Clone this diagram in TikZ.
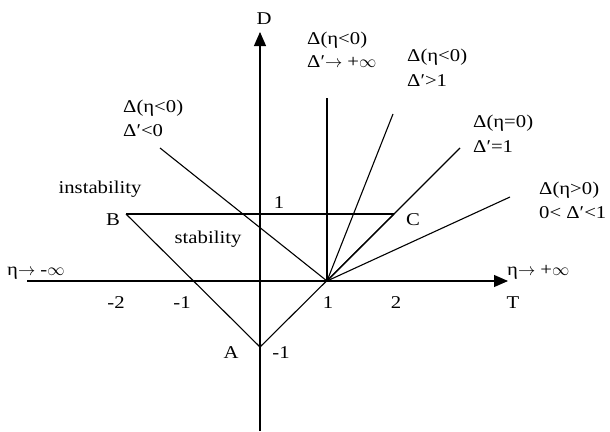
\documentclass[tikz,border=0pt]{standalone}
\usepackage{fontspec}
\setmainfont{Liberation Serif}[FakeStretch=1.15]
\usetikzlibrary{arrows.meta}
\newcommand{\myarr}{\ensuremath{\rightarrow}}
\newcommand{\myinf}{\ensuremath{\infty}}
\begin{document}
\begin{tikzpicture}[x=1pt,y=-1pt,
  ln/.style={line width=1.1pt},
  ax/.style={line width=1.1pt,-{Triangle[length=14pt,width=12pt]}},
  lbl/.style={inner sep=0pt,font=\fontsize{18}{22}\selectfont}]
\useasboundingbox (0,0) rectangle (610,431);
% points
\coordinate (O) at (260,281);
\coordinate (A) at (260,347);
\coordinate (B) at (126,214);
\coordinate (C) at (394,214);
\coordinate (P) at (327,281);
\coordinate (xl) at (27,281);
\coordinate (xr) at (508,281);
\coordinate (yb) at (260,431);
\coordinate (yt) at (260,32);
\coordinate (r1) at (160,148);
\coordinate (r2) at (327,98);
\coordinate (r3) at (393,114);
\coordinate (r4) at (460,148);
\coordinate (r5) at (510,197);
% axes
\draw[ax] (xl) -- (xr);
\draw[ax] (yb) -- (yt);
% triangle
\draw[ln] (B) -- (C);
\draw[ln] (B) -- (A) -- (C);
% rays
\draw[ln] (P) -- (r1);
\draw[ln] (P) -- (r2);
\draw[ln] (P) -- (r3);
\draw[ln] (P) -- (r4);
\draw[ln] (P) -- (r5);
% single labels
\node[lbl,anchor=base] (tD) at (264,24) {D};
\node[lbl,anchor=base] (tinst) at (100,193) {instability};
\node[lbl,anchor=base] (tB) at (113,225) {B};
\node[lbl,anchor=base] (tone) at (279,208) {1};
\node[lbl,anchor=base] (tstab) at (208,243) {stability};
\node[lbl,anchor=base] (tC) at (413,225) {C};
\node[lbl,anchor=base west] (tml) at (7,275) {η\myarr{} -\myinf};
\node[lbl,anchor=base west] (tpl) at (507,275) {η\myarr{} +\myinf};
\node[lbl,anchor=base] (tm2) at (116,308) {-2};
\node[lbl,anchor=base] (tm1) at (182,308) {-1};
\node[lbl,anchor=base] (tp1) at (328,308) {1};
\node[lbl,anchor=base] (tp2) at (396,308) {2};
\node[lbl,anchor=base] (tT) at (513,308) {T};
\node[lbl,anchor=base] (tA) at (231,358) {A};
\node[lbl,anchor=base] (tAm) at (281,358) {-1};
% ray labels
\node[lbl,anchor=base west] (l1a) at (123,112) {Δ(η<0)};
\node[lbl,anchor=base west] (l1b) at (123,136) {Δ′<0};
\node[lbl,anchor=base west] (l2a) at (307,44) {Δ(η<0)};
\node[lbl,anchor=base west] (l2b) at (307,67) {Δ′\myarr{} +\myinf};
\node[lbl,anchor=base west] (l3a) at (407,61) {Δ(η<0)};
\node[lbl,anchor=base west] (l3b) at (407,86) {Δ′>1};
\node[lbl,anchor=base west] (l4a) at (473,127) {Δ(η=0)};
\node[lbl,anchor=base west] (l4b) at (473,152) {Δ′=1};
\node[lbl,anchor=base west] (l5a) at (539,194) {Δ(η>0)};
\node[lbl,anchor=base west] (l5b) at (539,218) {0< Δ′<1};
\end{tikzpicture}
\end{document}
